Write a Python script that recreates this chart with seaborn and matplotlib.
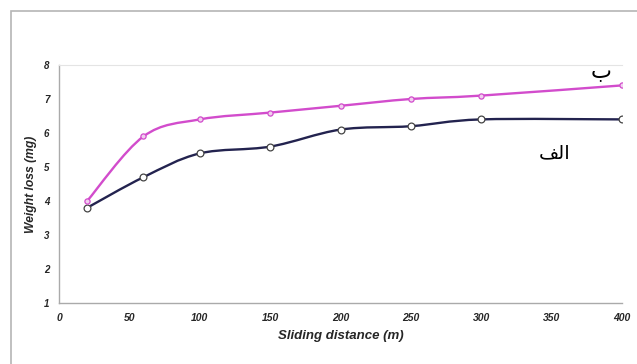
import matplotlib
matplotlib.use("Agg")
import matplotlib.pyplot as plt
from matplotlib.path import Path
from matplotlib.patches import PathPatch, Rectangle
import seaborn as sns
import pandas as pd

# ---- data ----
distance = [20, 60, 100, 150, 200, 250, 300, 400]
loss_b = [4.0, 5.9, 6.4, 6.6, 6.8, 7.0, 7.1, 7.4]      # series "ب"
loss_alef = [3.8, 4.7, 5.4, 5.6, 6.1, 6.2, 6.4, 6.4]   # series "الف"
label_b = "\u0628"                      # ب
label_alef = "\uFED2\uFEDF\uFE8D"       # الف (shaped presentation forms, visual order)
xticks = [0, 50, 100, 150, 200, 250, 300, 350, 400]
yticks = [1, 2, 3, 4, 5, 6, 7, 8]

sns.set_theme(style="white")
plt.rcParams['font.family'] = ['Liberation Sans', 'DejaVu Sans']

fig = plt.figure(figsize=(6.37, 3.64), dpi=100)
ax = fig.add_axes([59/637, 1-303/364, (622-59)/637, (303-65)/364])

df = pd.DataFrame({"x": distance + distance,
                   "y": loss_b + loss_alef,
                   "s": ["b"] * len(distance) + ["a"] * len(distance)})

def smooth_path(xs, ys):
    pts = list(zip(xs, ys))
    n = len(pts)
    verts = [pts[0]]
    codes = [Path.MOVETO]
    for i in range(n - 1):
        p0 = pts[i - 1] if i > 0 else pts[i]
        p1 = pts[i]
        p2 = pts[i + 1]
        p3 = pts[i + 2] if i + 2 < n else pts[i + 1]
        c1 = (p1[0] + (p2[0] - p0[0]) / 6, p1[1] + (p2[1] - p0[1]) / 6)
        c2 = (p2[0] - (p3[0] - p1[0]) / 6, p2[1] - (p3[1] - p1[1]) / 6)
        verts += [c1, c2, p2]
        codes += [Path.CURVE4] * 3
    return Path(verts, codes)

pink = "#d24ccc"
navy = "#23234f"
ax.add_patch(PathPatch(smooth_path(distance, loss_alef), facecolor="none",
                       edgecolor=navy, lw=1.7, zorder=2))
ax.add_patch(PathPatch(smooth_path(distance, loss_b), facecolor="none",
                       edgecolor=pink, lw=1.7, zorder=2))

sns.scatterplot(data=df[df.s == "a"], x="x", y="y", ax=ax, s=24, marker="o",
                facecolor="white", edgecolor="#444444", linewidth=0.9, zorder=3, legend=False)
sns.scatterplot(data=df[df.s == "b"], x="x", y="y", ax=ax, s=14, marker="o",
                facecolor="#f0cfee", edgecolor=pink, linewidth=0.9, zorder=3, legend=False)

ax.set_xlim(0, 400)
ax.set_ylim(1, 8)
ax.set_xticks(xticks)
ax.set_yticks(yticks)
ax.set_xticklabels([str(t) for t in xticks], fontsize=7.5, fontweight="bold", fontstyle="italic")
ax.set_yticklabels([str(t) for t in yticks], fontsize=7, fontweight="bold", fontstyle="italic")
ax.tick_params(axis="both", direction="inout", length=4, width=0.6, color="#999999", pad=5)
ax.set_xlabel("Sliding distance (m)", fontsize=9.5, fontweight="bold", fontstyle="italic", labelpad=5)
ax.set_ylabel("Weight loss (mg)", fontsize=8.7, fontweight="bold", fontstyle="italic", labelpad=5)

for side in ["left", "bottom"]:
    ax.spines[side].set_color("#aaaaaa")
    ax.spines[side].set_linewidth(1.0)
ax.spines["top"].set_color("#e4e4e4")
ax.spines["top"].set_linewidth(0.8)
ax.spines["right"].set_visible(False)

ax.text(385, 7.78, label_b, fontsize=16, family=["DejaVu Sans"], ha="center", va="center",
        clip_on=False, color="black")
ax.text(352, 5.42, label_alef, fontsize=14, family=["DejaVu Sans"], ha="center", va="center",
        clip_on=False, color="black")

fig.patches.append(Rectangle((11/637, -0.2), 1.2, 1.2 - 11/364, transform=fig.transFigure,
                             fill=False, edgecolor="#b5b5b5", lw=1.2, zorder=0))

fig.savefig("out.png", dpi=100, facecolor="white")
